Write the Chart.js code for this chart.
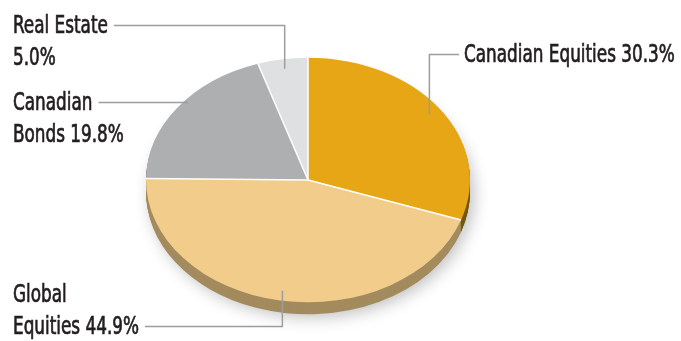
<!DOCTYPE html>
<html>
<head>
<meta charset="utf-8">
<script src="https://cdn.jsdelivr.net/npm/chart.js@4.4.1/dist/chart.umd.min.js"></script>
<style>
  html, body { margin: 0; padding: 0; background: #fff; }
</style>
</head>
<body>
<canvas id="mixChart" width="681" height="341"></canvas>
<script>
// Asset mix
const categories = ["Canadian Equities", "Global Equities", "Canadian Bonds", "Real Estate"];
const weights = [30.3, 44.9, 19.8, 5.0];
const wordsOnFirstLine = [3, 1, 1, 2];

const sliceColors = ["#e6a615", "#f2cc8a", "#aeafb1", "#dfe0e2"];
const sideColors = ["#75570f", "#a38b5e", "#7f8082", "#a9aaac"];

// where each label sits, and how its leader line runs
const labelLayout = [
  { x: 464, y: 62, side: "right", frac: 0.92 },
  { x: 13, y: 302, side: "left", frac: 0.92, lineRow: 1 },
  { x: 13, y: 110, side: "left", frac: 0.92, straight: true },
  { x: 13, y: 33, side: "left", frac: 0.92 }
];

const TILT = 0.755;
const DEPTH = 12;
const LINE_HEIGHT = 32;
const FONT = '24px "DejaVu Sans Condensed", "DejaVu Sans", sans-serif';
const SQUEEZE = 0.78; // the original face is a narrow one

function labelText(i) {
  const words = (categories[i] + " " + weights[i].toFixed(1) + "%").split(" ");
  const n = wordsOnFirstLine[i];
  const rows = [words.slice(0, n).join(" ")];
  if (n < words.length) rows.push(words.slice(n).join(" "));
  return rows;
}

function tilt(ctx, x, y, dy) {
  ctx.translate(x, y + dy);
  ctx.scale(1, TILT);
  ctx.translate(-x, -y);
}

const pie3d = {
  id: "pie3d",
  beforeDatasetsDraw(chart) {
    const ctx = chart.ctx;
    const arcs = chart.getDatasetMeta(0).data;
    const cx = arcs[0].x, cy = arcs[0].y;

    // side wall: stacked copies of the slices, deepest one casts the shadow
    for (let d = DEPTH; d >= 1; d--) {
      ctx.save();
      if (d === DEPTH) {
        ctx.shadowColor = "rgba(0,0,0,0.25)";
        ctx.shadowBlur = 16;
        ctx.shadowOffsetX = 4;
        ctx.shadowOffsetY = 3;
      }
      tilt(ctx, cx, cy, d);
      arcs.forEach((a, i) => {
        ctx.beginPath();
        ctx.moveTo(a.x, a.y);
        ctx.arc(a.x, a.y, a.outerRadius, a.startAngle, a.endAngle);
        ctx.closePath();
        ctx.fillStyle = sideColors[i];
        ctx.fill();
      });
      ctx.restore();
    }

    ctx.save();
    tilt(ctx, cx, cy, 0);
  },
  afterDatasetsDraw(chart) {
    const ctx = chart.ctx;
    ctx.restore();

    // white seams between slices
    const arcs = chart.getDatasetMeta(0).data;
    ctx.save();
    ctx.strokeStyle = "#ffffff";
    ctx.lineWidth = 1.5;
    arcs.forEach(a => {
      ctx.beginPath();
      ctx.moveTo(a.x, a.y);
      ctx.lineTo(a.x + a.outerRadius * Math.cos(a.startAngle),
                 a.y + a.outerRadius * Math.sin(a.startAngle) * TILT);
      ctx.stroke();
    });
    ctx.restore();
  },
  afterDraw(chart) {
    const ctx = chart.ctx;
    const arcs = chart.getDatasetMeta(0).data;
    ctx.save();
    ctx.font = FONT;
    ctx.textBaseline = "alphabetic";

    arcs.forEach((a, i) => {
      const lay = labelLayout[i];
      const rows = labelText(i);
      rows.forEach((t, r) => {
        ctx.save();
        ctx.translate(lay.x, lay.y + r * LINE_HEIGHT);
        ctx.scale(SQUEEZE, 1);
        ctx.fillStyle = "#231f20";
        ctx.strokeStyle = "#231f20";
        ctx.lineWidth = 0.7;
        ctx.fillText(t, 0, 0);
        ctx.strokeText(t, 0, 0);
        ctx.restore();
      });

      const mid = (a.startAngle + a.endAngle) / 2;
      const ax = a.x + a.outerRadius * lay.frac * Math.cos(mid);
      const ay = a.y + a.outerRadius * lay.frac * Math.sin(mid) * TILT;
      const row = lay.lineRow || 0;
      const ly = lay.y + row * LINE_HEIGHT - 7.5;
      const lx = lay.side === "right"
        ? lay.x - 5
        : lay.x + ctx.measureText(rows[row]).width * SQUEEZE + 6;

      ctx.strokeStyle = "#9d9d9d";
      ctx.lineWidth = 1.5;
      ctx.beginPath();
      ctx.moveTo(lx, ly);
      ctx.lineTo(ax, ly);
      if (!lay.straight) ctx.lineTo(ax, ay);
      ctx.stroke();
    });
    ctx.restore();
  }
};

new Chart(document.getElementById("mixChart"), {
  type: "pie",
  data: {
    labels: categories,
    datasets: [
      {
        data: weights,
        backgroundColor: sliceColors,
        borderWidth: 0,
        radius: 162,
      },
    ],
  },
  options: {
    responsive: false,
    animation: false,
    events: [],
    layout: { padding: { left: 146, right: 211, top: 19, bottom: 0 } },
    plugins: {
      legend: { display: false },
      tooltip: { enabled: false },
    },
  },
  plugins: [pie3d],
});
</script>
</body>
</html>
